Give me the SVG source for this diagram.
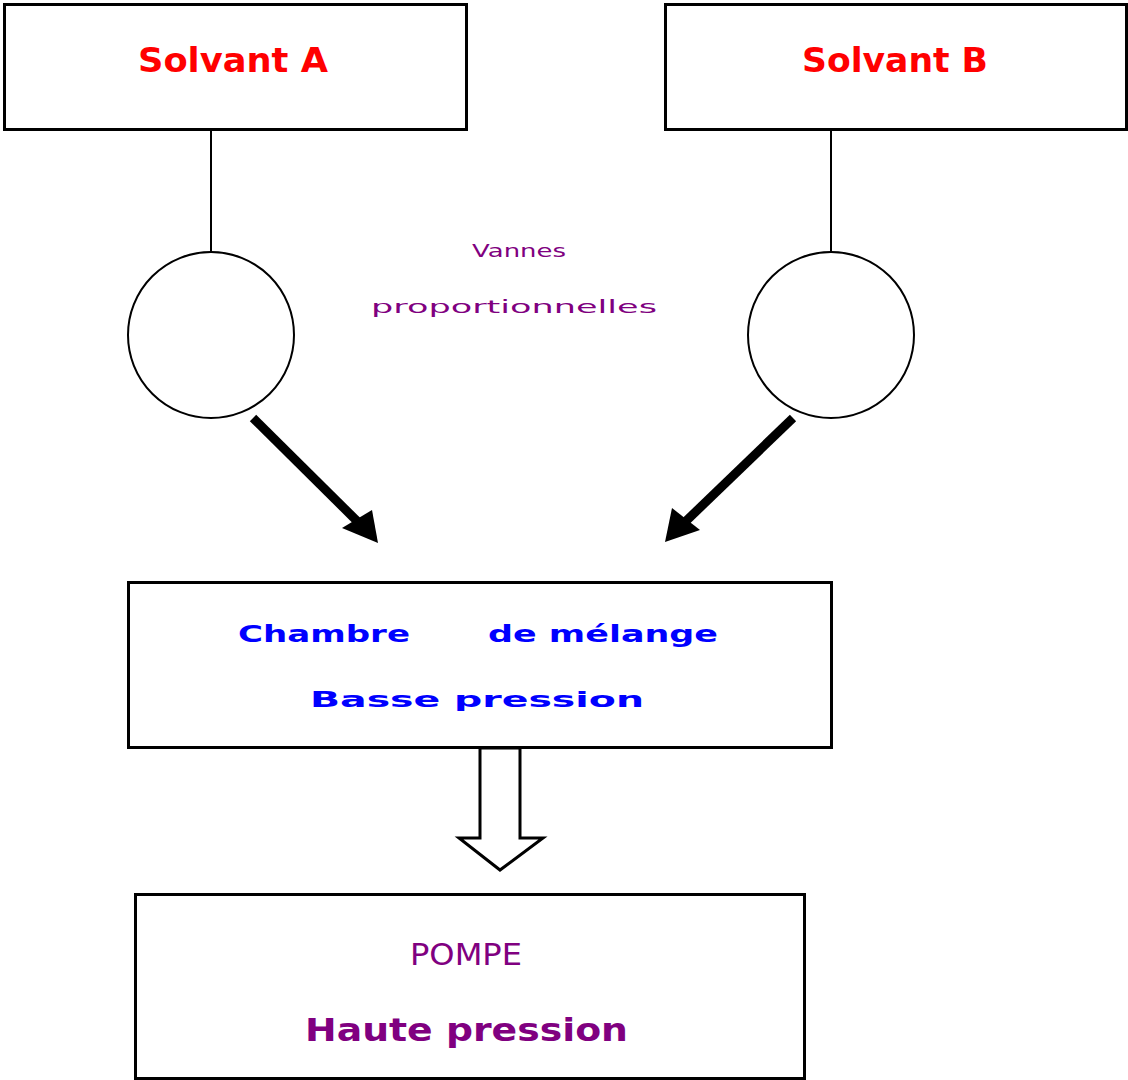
<svg xmlns="http://www.w3.org/2000/svg" width="1128" height="1080" viewBox="0 0 1128 1080">
<style>
.box{fill:#fff;stroke:#000;stroke-width:3}
.circ{fill:none;stroke:#000;stroke-width:2}
.ln{stroke:#000;stroke-width:2;fill:none}
.thick{stroke:#000;stroke-width:9;fill:none}
.t{font-family:"DejaVu Sans",sans-serif;font-weight:bold}
.red{fill:#ff0000}
.blue{fill:#0000ff}
.pur{fill:#800080}
</style>
<rect width="1128" height="1080" fill="#fff"/>
<g id="solvantA">
<rect class="box" x="4.5" y="4.5" width="462" height="125"/>
<text class="t red" x="138" y="72" font-size="33" textLength="190" lengthAdjust="spacingAndGlyphs">Solvant A</text>
</g>
<g id="solvantB">
<rect class="box" x="665.5" y="4.5" width="461" height="125"/>
<text class="t red" x="802" y="72" font-size="33" textLength="186" lengthAdjust="spacingAndGlyphs">Solvant B</text>
</g>
<g id="vanneA">
<circle class="circ" cx="211" cy="335" r="83"/>
</g>
<g id="vanneB">
<circle class="circ" cx="831" cy="335" r="83"/>
</g>
<g id="label">
<text class="pur" font-family="DejaVu Sans,sans-serif" x="472" y="257" font-size="17" textLength="94" lengthAdjust="spacingAndGlyphs">Vannes</text>
<text class="pur" font-family="DejaVu Sans,sans-serif" x="371" y="313" font-size="18" textLength="286" lengthAdjust="spacingAndGlyphs">proportionnelles</text>
</g>
<g id="chambre">
<rect class="box" x="128.5" y="582.5" width="703" height="165"/>
<text class="t blue" x="238" y="642" font-size="23" textLength="172" lengthAdjust="spacingAndGlyphs">Chambre</text>
<text class="t blue" x="488" y="642" font-size="23" textLength="230" lengthAdjust="spacingAndGlyphs">de mélange</text>
<text class="t blue" x="310" y="707" font-size="22" textLength="334" lengthAdjust="spacingAndGlyphs">Basse pression</text>
</g>
<g id="pompe">
<rect class="box" x="135.5" y="894.5" width="669" height="184"/>
<text class="pur" font-family="DejaVu Sans,sans-serif" x="410" y="965" font-size="31" textLength="112" lengthAdjust="spacingAndGlyphs">POMPE</text>
<text class="t pur" x="305" y="1041" font-size="32" textLength="323" lengthAdjust="spacingAndGlyphs">Haute pression</text>
</g>
<g id="connectors">
<line class="ln" x1="211" y1="129" x2="211" y2="252"/>
<line class="ln" x1="831" y1="129" x2="831" y2="252"/>
<line class="thick" x1="253" y1="418" x2="360" y2="524"/>
<polygon points="378,543 342,528 372,510" fill="#000"/>
<line class="thick" x1="793" y1="418" x2="684" y2="523"/>
<polygon points="665,542 672,508 700,530" fill="#000"/>
<polygon points="480,748 480,838 459,838 500,870 543,838 520,838 520,748" fill="#fff" stroke="#000" stroke-width="3"/>
</g>
</svg>
